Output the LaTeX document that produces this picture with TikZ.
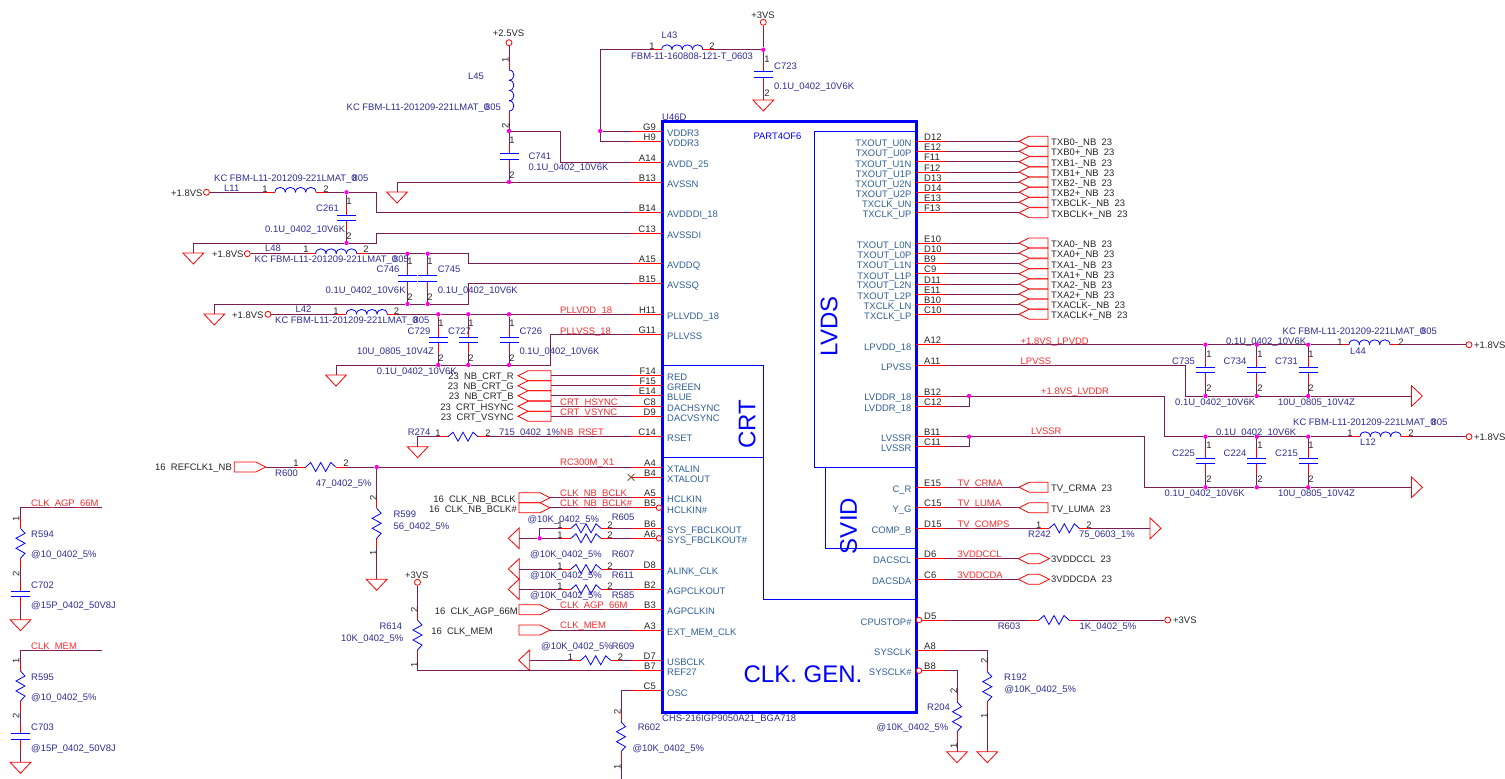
\documentclass[tikz,border=0pt]{standalone}
\usepackage{fontspec}
\setmainfont{Liberation Sans}
\usetikzlibrary{shapes.misc}

\definecolor{wirecol}{HTML}{7A1F55}
\definecolor{refblue}{HTML}{2E2E96}
\definecolor{pinblue}{HTML}{2F6096}
\definecolor{netred}{HTML}{FF2B2B}
\definecolor{dotmag}{HTML}{FF00E0}

\newcommand{\kcfbm}{KC FBM-L11-201209-221LMAT\_0\kern-4pt 805}
\newcommand{\ten}{0.1U\_0402\_10V6K}
\newcommand{\tenu}{10U\_0805\_10V4Z}
\newcommand{\atten}{@10K\_0402\_5\%}

\tikzset{
  wire/.style={draw=wirecol,line width=1pt},
  stub/.style={draw=red,line width=1pt},
  partline/.style={draw=blue,line width=.8pt},
  symb/.style={draw=red,line width=.8pt},
  txt/.style={inner sep=0pt,text height=7pt,text depth=0pt,anchor=west,font=\fontsize{9.45}{10}\selectfont},
  pinnum/.style={txt,anchor=center,text=black!85},
  rotnum/.style={pinnum,rotate=90},
  pinname/.style={txt,text=pinblue},
  refdes/.style={txt,text=refblue},
  netname/.style={txt,text=netred},
  porttext/.style={txt,text=black!85},
  bigname/.style={inner sep=0pt,text=blue,font=\fontsize{24}{26}\selectfont},
  jdot/.style={circle,fill=dotmag,inner sep=0pt,minimum size=4.4pt},
  pwr/.style={circle,draw=red,fill=white,line width=.8pt,inner sep=0pt,minimum size=6pt},
  nocon/.style={cross out,draw=brown!70!black,line width=.8pt,inner sep=0pt,minimum size=6pt},
  res/.pic={
    \coordinate (-a) at (-10,0);
    \coordinate (-b) at (40,0);
    \draw[stub] (-a) -- (0,0) (30,0) -- (-b);
    \draw[partline] (0,0) -- (5,-4.5) -- (10,4.5) -- (15,-4.5) -- (20,4.5) -- (25,-4.5) -- (30,0);
  },
  ind/.pic={
    \coordinate (-a) at (-10,0);
    \coordinate (-b) at (51,0);
    \draw[stub] (-a) -- (0,0) (41,0) -- (-b);
    \foreach \s/\e in {0/10.25,10.25/20.5,20.5/30.75,30.75/41}
      \draw[partline] (\s,0) .. controls (\s,-6.5) and (\e,-6.5) .. (\e,0);
  },
  cap/.pic={
    \coordinate (-a) at (-12.7,0);
    \coordinate (-b) at (12.7,0);
    \draw[stub] (-a) -- (-2.7,0) (2.7,0) -- (-b);
    \draw[partline] (-2.7,-9.5) -- (-2.7,9.5) (2.7,-9.5) -- (2.7,9.5);
  },
  gnd/.pic={
    \coordinate (-top) at (0,0);
    \draw[symb] (-10.4,0) -- (10.4,0) -- (0,11) -- cycle;
  },
  portl/.pic={
    \coordinate (-tip) at (0,0);
    \coordinate (-tail) at (#1,0);
    \draw[symb] (0,0) -- (10,-5) -- (#1,-5) -- (#1,5) -- (10,5) -- cycle;
  },
  portr/.pic={
    \coordinate (-tail) at (0,0);
    \coordinate (-tip) at (#1,0);
    \draw[symb] (0,-5) -- ({#1-10},-5) -- (#1,0) -- ({#1-10},5) -- (0,5) -- cycle;
  },
  hexport/.pic={
    \coordinate (-a) at (0,0);
    \draw[symb] (0,0) -- (10,-5) -- (21,-5) -- (31,0) -- (21,5) -- (10,5) -- cycle;
  }
}

\begin{document}
\begin{tikzpicture}[x=1pt,y=-1pt]
\useasboundingbox (0,0) rectangle (1505,779);

% chip outline
\draw[blue,line width=3pt] (662,121) rectangle (916,712);
\draw[blue,line width=.8pt] (916,131.7) -- (814.5,131.7) -- (814.5,467) -- (916,467);
\draw[blue,line width=.8pt] (825,467) -- (825,548.7) -- (916,548.7);
\draw[blue,line width=.8pt] (662,365.3) -- (763.7,365.3) -- (763.7,599) -- (916,599);
\draw[blue,line width=.8pt] (662,457) -- (763.7,457);
\node[bigname,rotate=90] (tLVDS) at (829,326.5) {LVDS};
\node[bigname,rotate=90] (tCRT) at (747,424) {CRT};
\node[bigname,rotate=90] (tSVID) at (848.5,526) {SVID};
\node[bigname] (tCLK) at (803,674) {CLK. GEN.};
\node[refdes] (tU46D) at (662,117) {U46D};
\node[txt,text=blue] (tPART) at (753.3,136) {PART4OF6};
\node[refdes] (tCHS) at (662,718) {CHS-216IGP9050A21\_BGA718};

% left pins
\foreach \pn/\ptxt/\py/\ny in {G9/VDDR3/131/132.7,H9/VDDR3/141.3/143,A14/AVDD\_25/162/164,B13/AVSSN/182/184,B14/AVDDDI\_18/212.7/214,C13/AVSSDI/233/234.5,A15/AVDDQ/263.7/265,B15/AVSSQ/283.7/285,H11/PLLVDD\_18/314.3/316,G11/PLLVSS/334.7/336,F14/RED/375.7/376.5,F15/GREEN/385.7/386.7,E14/BLUE/395.7/396.7,C8/DACHSYNC/406.3/407.7,D9/DACVSYNC/416.3/417.7,C14/RSET/436.7/437.7,A4/XTALIN/467/468.7,B4/XTALOUT/477.3/478.7,A5/HCLKIN/497.7/498.7,B5/HCLKIN\#/507.7/509.7,B6/SYS\_FBCLKOUT/528.3/529.7,A6/SYS\_FBCLKOUT\#/538.3/539.7,D8/ALINK\_CLK/569/570.7,B2/AGPCLKOUT/589.3/590.7,B3/AGPCLKIN/609.7/610.7,A3/EXT\_MEM\_CLK/630/631.7,D7/USBCLK/660.3/661.7,B7/REF27/670.7/671.7,C5/OSC/690.7/692.7}{
  \coordinate (pin\pn) at (662,\py);
  \draw[stub] (pin\pn) -- ++(-30,0) coordinate (stub\pn);
  \node[txt,anchor=east,text=black!85] (num\pn) at (656,\py-4.5) {\pn};
  \node[pinname] (name\pn) at (667,\ny) {\ptxt};
}

% right pins
\foreach \pn/\ptxt/\py/\ny in {D12/TXOUT\_U0N/141.3/142.7,E12/TXOUT\_U0P/151.3/152.7,F11/TXOUT\_U1N/161.7/163.7,F12/TXOUT\_U1P/172/173.7,D13/TXOUT\_U2N/182/183.7,D14/TXOUT\_U2P/192.3/193.7,E13/TXCLK\_UN/202.3/203.7,F13/TXCLK\_UP/212.7/213.7,E10/TXOUT\_L0N/243/244.7,D10/TXOUT\_L0P/253/254.7,B9/TXOUT\_L1N/263.7/264.7,C9/TXOUT\_L1P/273.7/275.7,D11/TXOUT\_L2N/284/284.7,E11/TXOUT\_L2P/294/295.7,B10/TXCLK\_LN/304/305.7,C10/TXCLK\_LP/314.3/315.7,A12/LPVDD\_18/344.7/346.7,A11/LPVSS/365.3/366.7,B12/LVDDR\_18/396/396.7,C12/LVDDR\_18/406/407.7,B11/LVSSR/436.7/437.7,C11/LVSSR/446.7/447.7,E15/C\_R/487.3/488.7,C15/Y\_G/507.7/509.3,D15/COMP\_B/528.3/530,D6/DACSCL/558.7/560,C6/DACSDA/579.3/580.7,D5/CPUSTOP\#/620/621.7,A8/SYSCLK/650.3/652,B8/SYSCLK\#/670.7/672}{
  \coordinate (pin\pn) at (916,\py);
  \draw[stub] (pin\pn) -- ++(30,0) coordinate (stub\pn);
  \node[txt,text=black!85] (num\pn) at (924,\py-4.5) {\pn};
  \node[pinname,anchor=east] (name\pn) at (911.7,\ny) {\ptxt};
}
\foreach \pn/\bx/\py in {B5/659/507.7,A6/659/538.3,D5/919/620,B8/919/670.7}
  \node[pwr,minimum size=5.6pt] (bub\pn) at (\bx,\py) {};
\node[nocon] (xB4) at (631,477.3) {};

% LVDS outputs
\foreach \pn/\py/\ptxt in {D12/141.3/TXB0-\_NB\ \ 23,E12/151.3/TXB0+\_NB\ \ 23,F11/161.7/TXB1-\_NB\ \ 23,F12/172/TXB1+\_NB\ \ 23,D13/182/TXB2-\_NB\ \ 23,D14/192.3/TXB2+\_NB\ \ 23,E13/202.3/TXBCLK-\_NB\ \ 23,F13/212.7/TXBCLK+\_NB\ \ 23,E10/243/TXA0-\_NB\ \ 23,D10/253/TXA0+\_NB\ \ 23,B9/263.7/TXA1-\_NB\ \ 23,C9/273.7/TXA1+\_NB\ \ 23,D11/284/TXA2-\_NB\ \ 23,E11/294/TXA2+\_NB\ \ 23,B10/304/TXACLK-\_NB\ \ 23,C10/314.3/TXACLK+\_NB\ \ 23,E15/487.3/TV\_CRMA\ \ 23,C15/507.7/TV\_LUMA\ \ 23}{
  \pic (port\pn) at (1019,\py) {portl=29};
  \draw[wire] (stub\pn) -- (port\pn-tip);
  \node[porttext] (tx\pn) at (1051,\py+1) {\ptxt};
}
\foreach \pn/\py/\ptxt in {D6/558.7/3VDDCCL\ \ 23,C6/579.3/3VDDCDA\ \ 23}{
  \pic (port\pn) at (1018.3,\py) {hexport};
  \draw[wire] (stub\pn) -- (port\pn-a);
  \node[porttext] (tx\pn) at (1051,\py) {\ptxt};
}

% CRT and clock ports on the left
\foreach \pn/\py/\ptxt in {F14/375.7/23\ \ NB\_CRT\_R,F15/385.7/23\ \ NB\_CRT\_G,E14/395.7/23\ \ NB\_CRT\_B,C8/406.3/23\ \ CRT\_HSYNC,D9/416.3/23\ \ CRT\_VSYNC}{
  \pic (port\pn) at (518,\py) {portl=33};
  \draw[wire] (port\pn-tail) -- (stub\pn);
  \node[porttext,anchor=east] (tx\pn) at (514,\py+.5) {\ptxt};
}
\foreach \pn/\py/\ex/\ptxt in {A5/497.7/516/16\ \ CLK\_NB\_BCLK,B5/507.7/517/16\ \ CLK\_NB\_BCLK\#,B3/609.7/518/16\ \ CLK\_AGP\_66M,A3/630/493/16\ \ CLK\_MEM}{
  \pic (port\pn) at (519,\py) {portr=31};
  \draw[wire] (port\pn-tip) -- (stub\pn);
  \node[porttext,anchor=east] (tx\pn) at (\ex,\py+1) {\ptxt};
}

% +3VS, L43, C723
\node[porttext,anchor=center] (t3VSa) at (763,15) {+3VS};
\node[pwr] (vL43) at (763.3,22.3) {};
\node[jdot] (jL43) at (763.3,49.7) {};
\node[jdot] (jG9) at (600.3,131) {};
\pic (L43) at (661.7,49.7) {ind};
\pic[rotate=-90] (C723) at (763.3,74.3) {cap};
\pic (gC723) at (763.3,100) {gnd};
\draw[wire] (vL43) -- (jL43);
\draw[wire] (L43-b) -- (jL43);
\draw[wire] (L43-a) -| (jG9);
\draw[wire] (jG9) -- (stubG9);
\draw[wire] (jG9) |- (stubH9);
\draw[wire] (jL43) -- (C723-a);
\draw[wire] (C723-b) -- (gC723-top);

% +2.5VS, L45, C741
\node[porttext,anchor=center] (t25VS) at (508.5,33) {+2.5VS};
\node[pwr] (vL45) at (509,42.7) {};
\node[jdot] (jL45) at (509,131) {};
\node[jdot] (jB13) at (509,182) {};
\coordinate (bendA14) at (560.3,162);
\pic[rotate=-90] (L45) at (509,70) {ind};
\pic[rotate=-90] (C741) at (509,156.4) {cap};
\pic (gB13) at (397,192) {gnd};
\draw[wire] (vL45) -- (L45-a);
\draw[wire] (L45-b) -- (jL45);
\draw[wire] (jL45) -| (bendA14) -- (stubA14);
\draw[wire] (jL45) -- (C741-a);
\draw[wire] (C741-b) -- (jB13);
\draw[wire] (stubB13) -- (jB13);
\draw[wire] (jB13) -| (gB13-top);

% L11, C261
\node[pwr] (vL11) at (206.5,192.3) {};
\node[jdot] (jL11) at (346.5,192.3) {};
\node[jdot] (jC13) at (346.5,243) {};
\coordinate (bendB14) at (376.7,212.7);
\coordinate (bendC13) at (376.7,233);
\pic (L11) at (275,192.3) {ind};
\pic[rotate=-90] (C261) at (346.5,217.6) {cap};
\pic (gC13) at (193.3,253) {gnd};
\draw[wire] (vL11) -- (L11-a);
\draw[wire] (L11-b) -- (jL11);
\draw[wire] (jL11) -| (bendB14) -- (stubB14);
\draw[wire] (jL11) -- (C261-a);
\draw[wire] (C261-b) -- (jC13);
\draw[wire] (gC13-top) |- (jC13);
\draw[wire] (jC13) -| (bendC13) -- (stubC13);

% L48, C746, C745
\node[pwr] (vL48) at (247.3,253.7) {};
\node[jdot] (jC746) at (407.5,253.7) {};
\node[jdot] (jC745) at (427.7,253.7) {};
\node[jdot] (kC746) at (407.5,304) {};
\node[jdot] (kC745) at (427.7,304) {};
\coordinate (bendA15) at (468.3,263.7);
\coordinate (bendB15) at (468.3,283.7);
\pic (L48) at (315.7,253.7) {ind};
\pic[rotate=-90] (C746) at (407.5,278.3) {cap};
\pic[rotate=-90] (C745) at (427.7,278.3) {cap};
\pic (gB15) at (214.3,314) {gnd};
\draw[wire] (vL48) -- (L48-a);
\draw[wire] (L48-b) -- (jC746) -- (jC745);
\draw[wire] (jC745) -| (bendA15) -- (stubA15);
\foreach \cn in {C746,C745}{
  \draw[wire] (j\cn) -- (\cn-a);
  \draw[wire] (\cn-b) -- (k\cn);
}
\draw[wire] (gB15-top) |- (kC746) -- (kC745);
\draw[wire] (kC745) -| (bendB15) -- (stubB15);

% L42, C729, C727, C726
\node[pwr] (vL42) at (268,314.3) {};
\pic (L42) at (346.3,314.3) {ind};
\foreach \cn/\cx in {C729/438.3,C727/468.3,C726/509}{
  \node[jdot] (j\cn) at (\cx,314.3) {};
  \node[jdot] (k\cn) at (\cx,365) {};
  \pic[rotate=-90] (\cn) at (\cx,339.6) {cap};
  \draw[wire] (j\cn) -- (\cn-a);
  \draw[wire] (\cn-b) -- (k\cn);
}
\coordinate (bendG11) at (550,334.7);
\pic (gG11) at (336,375) {gnd};
\draw[wire] (vL42) -- (L42-a);
\draw[wire] (L42-b) -- (jC729) -- (jC727) -- (jC726) -- (stubH11);
\draw[wire] (gG11-top) |- (kC729) -- (kC727) -- (kC726);
\draw[wire] (kC726) -| (bendG11) -- (stubG11);

% R274, R600, R599
\pic (R274) at (448,436.7) {res};
\pic (gC14) at (417.7,446.7) {gnd};
\draw[wire] (R274-b) -- (stubC14);
\draw[wire] (R274-a) -| (gC14-top);
\pic (pREF) at (234.3,467) {portr=31.4};
\pic (R600) at (305.7,467) {res};
\node[jdot] (jA4) at (376.7,467) {};
\pic[rotate=-90] (R599) at (376.7,508.3) {res};
\pic (gR599) at (376.7,579.3) {gnd};
\draw[wire] (pREF-tip) -- (R600-a);
\draw[wire] (R600-b) -- (jA4);
\draw[wire] (jA4) -- (stubA4);
\draw[wire] (jA4) -- (R599-a);
\draw[wire] (R599-b) -- (gR599-top);
\draw[wire] (xB4) -- (stubB4);

% feedback clock resistors
\foreach \rn/\py/\pn in {R605/528.3/B6,R607/538.3/A6,R611/569/D8,R585/589.3/B2}{
  \pic (\rn) at (571,\py) {res};
  \draw[wire] (\rn-b) -- (stub\pn);
}
\node[jdot] (jA6) at (539.7,538.3) {};
\pic[rotate=-90] (tA6) at (519.3,538.3) {gnd};
\pic[rotate=-90] (tD8) at (519.3,569) {gnd};
\pic[rotate=-90] (tB2) at (519.3,589.3) {gnd};
\draw[wire] (tA6-top) -- (jA6) -- (R607-a);
\draw[wire] (jA6) |- (R605-a);
\draw[wire] (tD8-top) -- (R611-a);
\draw[wire] (tB2-top) -- (R585-a);

% +3VS, R614, R609
\node[porttext,anchor=center] (t3VSb) at (416.7,575) {+3VS};
\node[pwr] (vR614) at (417.5,582.3) {};
\pic[rotate=-90] (R614) at (417.5,620) {res};
\pic (R609) at (580.7,660.3) {res};
\pic[rotate=-90] (tD7) at (529.7,660.3) {gnd};
\draw[wire] (vR614) -- (R614-a);
\draw[wire] (R614-b) |- (stubB7);
\draw[wire] (tD7-top) -- (R609-a);
\draw[wire] (R609-b) -- (stubD7);

% R602
\pic[rotate=-90] (R602) at (621,721.7) {res};
\coordinate (endR602) at (621,779);
\draw[wire] (stubC5) -| (R602-a);
\draw[wire] (R602-b) -- (endR602);

% damping branches far left
\coordinate (endAGP) at (102,507.7);
\coordinate (endMEM) at (102,650.3);
\pic[rotate=-90] (R594) at (20.5,528.3) {res};
\pic[rotate=-90] (C702) at (20.5,594) {cap};
\pic (gC702) at (20.5,619.7) {gnd};
\pic[rotate=-90] (R595) at (20.5,671) {res};
\pic[rotate=-90] (C703) at (20.5,736.3) {cap};
\pic (gC703) at (20.5,762.3) {gnd};
\draw[wire] (endAGP) -| (R594-a);
\draw[wire] (R594-b) -- (C702-a);
\draw[wire] (C702-b) -- (gC702-top);
\draw[wire] (endMEM) -| (R595-a);
\draw[wire] (R595-b) -- (C703-a);
\draw[wire] (C703-b) -- (gC703-top);

% LPVDD branch
\foreach \cn/\cx in {C735/1205.5,C734/1256.8,C731/1308.2}{
  \node[jdot] (j\cn) at (\cx,344.7) {};
  \node[jdot] (k\cn) at (\cx,396) {};
  \pic[rotate=-90] (\cn) at (\cx,370) {cap};
  \draw[wire] (j\cn) -- (\cn-a);
  \draw[wire] (\cn-b) -- (k\cn);
}
\pic (L44) at (1349,344.7) {ind};
\node[pwr] (vL44) at (1469,344.7) {};
\pic[rotate=90] (tA11) at (1411.4,396) {gnd};
\coordinate (bendA11) at (1185.5,396);
\draw[wire] (stubA12) -- (jC735) -- (jC734) -- (jC731) -- (L44-a);
\draw[wire] (L44-b) -- (vL44);
\draw[wire] (stubA11) -| (bendA11) -- (kC735) -- (kC734) -- (kC731) -- (tA11-top);

% LVDDR branch
\node[jdot] (jB12) at (969,396) {};
\node[jdot] (jB11) at (969,436.7) {};
\foreach \cn/\cx in {C225/1205.5,C224/1256.8,C215/1308.2}{
  \node[jdot] (j\cn) at (\cx,436.7) {};
  \node[jdot] (k\cn) at (\cx,487.3) {};
  \pic[rotate=-90] (\cn) at (\cx,461) {cap};
  \draw[wire] (j\cn) -- (\cn-a);
  \draw[wire] (\cn-b) -- (k\cn);
}
\pic (L12) at (1360,436.7) {ind};
\node[pwr] (vL12) at (1469,436.7) {};
\pic[rotate=90] (tB11) at (1411.4,487.3) {gnd};
\coordinate (bendB12) at (1164.5,436.7);
\coordinate (bendB11) at (1144,487.3);
\draw[wire] (stubB12) -- (jB12);
\draw[wire] (jB12) |- (stubC12);
\draw[wire] (jB12) -| (bendB12) -- (jC225) -- (jC224) -- (jC215) -- (L12-a);
\draw[wire] (L12-b) -- (vL12);
\draw[wire] (stubB11) -- (jB11);
\draw[wire] (jB11) |- (stubC11);
\draw[wire] (jB11) -| (bendB11) -- (kC225) -- (kC224) -- (kC215) -- (tB11-top);

% R242, R603, R192, R204
\pic (R242) at (1049.3,528.3) {res};
\pic[rotate=90] (tD15) at (1150,528.3) {gnd};
\draw[wire] (stubD15) -- (R242-a);
\draw[wire] (R242-b) -- (tD15-top);
\pic (R603) at (1039,620) {res};
\node[pwr] (vR603) at (1167.7,620) {};
\draw[wire] (stubD5) -- (R603-a);
\draw[wire] (R603-b) -- (vR603);
\pic[rotate=-90] (R192) at (987.3,671.7) {res};
\pic (gA8) at (987.3,751.7) {gnd};
\draw[wire] (stubA8) -| (R192-a);
\draw[wire] (R192-b) -- (gA8-top);
\pic[rotate=-90] (R204) at (957,701.7) {res};
\pic (gB8) at (957,751.7) {gnd};
\draw[wire] (stubB8) -| (R204-a);
\draw[wire] (R204-b) -- (gB8-top);

% part names and values
\foreach \n/\x/\y/\t in {
  rL43/661.5/35/L43,vaL43/631/56/FBM-11-160808-121-T\_0603,
  rC723/774/66/C723,vaC723/774/86/\ten,
  rL45/468/76/L45,vaL45/346.5/107/\kcfbm,
  rC741/528.3/156/C741,vaC741/528.3/167/\ten,
  rL11/224/188/L11,vaL11/214/177.5/\kcfbm,
  rC261/316/208/C261,vaC261/265/229/\ten,
  rL48/265/248/L48,vaL48/254.5/258.7/\kcfbm,
  rC746/376.5/268.7/C746,vaC746/325.5/289.7/\ten,
  rC745/437.7/268.7/C745,vaC745/437.7/289.7/\ten,
  rL42/295.5/309/L42,vaL42/275/319.5/\kcfbm,
  rC729/407.5/331/C729,vaC729/357/351/\tenu,
  rC727/448/331/C727,vaC727/376.7/371/\ten,
  rC726/519.3/331/C726,vaC726/519.3/351/\ten,
  rR274/407.7/432/R274,vaR274/499/432/715\_0402\_1\%,
  rR600/275/472.7/R600,vaR600/315.7/483/47\_0402\_5\%,
  rR599/393.3/514/R599,vaR599/393.3/526/56\_0402\_5\%,
  rR605/611.7/517/R605,vaR605/527.3/519/\atten,
  rR607/611.7/553.7/R607,vaR607/530/553.7/\atten,
  rR611/611.7/575/R611,vaR611/530/575/\atten,
  rR585/611.7/595/R585,vaR585/530/595/\atten,
  rR614/379.3/626/R614,vaR614/341/637.7/10K\_0402\_5\%,
  rR609/611.7/646/R609,vaR609/541/646/\atten,
  rR602/637.7/726.7/R602,vaR602/632.3/748/\atten,
  rR594/31/534/R594,vaR594/31/554/@10\_0402\_5\%,
  rC702/31/585/C702,vaC702/31/605/@15P\_0402\_50V8J,
  rR595/31/677/R595,vaR595/31/697/@10\_0402\_5\%,
  rC703/31/727/C703,vaC703/31/748/@15P\_0402\_50V8J,
  rL44/1350/351/L44,vaL44/1282.5/331/\kcfbm,
  vaC735/1175/402/\ten,vaC734/1226/341/\ten,vaC731/1278/402/\tenu,
  rL12/1360/442/L12,vaL12/1293/421.7/\kcfbm,
  vaC225/1164.5/493/\ten,vaC224/1216/431.7/\ten,vaC215/1278/493/\tenu,
  rC735/1172/361/C735,rC734/1223.5/361/C734,rC731/1275/361/C731,
  rC225/1172/453/C225,rC224/1223.5/453/C224,rC215/1275/453/C215,
  rR242/1028/534/R242,vaR242/1079/534/75\_0603\_1\%,
  rR603/997.7/625.7/R603,vaR603/1079.3/626/1K\_0402\_5\%,
  rR192/1004/677/R192,vaR192/1004.3/689/\atten,
  rR204/927/707/R204,vaR204/876.5/727/\atten}
  \node[refdes] (\n) at (\x,\y) {\t};

% net names
\foreach \n/\x/\y/\t in {
  nPLLVDD/560/310/PLLVDD\_18,nPLLVSS/560/331/PLLVSS\_18,
  nHSYNC/560/401.5/CRT\_HSYNC,nVSYNC/560/411.5/CRT\_VSYNC,
  nRSET/560/432/NB\_RSET,nX1/560/462/RC300M\_X1,
  nBCLK/560/492.7/CLK\_NB\_BCLK,nBCLKb/560/502.7/CLK\_NB\_BCLK\#,
  nAGP/560/605/CLK\_AGP\_66M,nMEM/560/625/CLK\_MEM,
  nAGPb/31/502.7/CLK\_AGP\_66M,nMEMb/31/645.5/CLK\_MEM,
  nLPVDD/1020.5/341/+1.8VS\_LPVDD,nLPVSS/1020.5/361/LPVSS,
  nLVDDR/1041/391/+1.8VS\_LVDDR,nLVSSR/1031/431/LVSSR,
  nCRMA/957.3/482.7/TV\_CRMA,nLUMA/957.3/503/TV\_LUMA,nCOMPS/957.3/523.5/TV\_COMPS,
  nCCL/957.3/554/3VDDCCL,nCDA/957.3/575/3VDDCDA}
  \node[netname] (\n) at (\x,\y) {\t};

% rails and port text
\foreach \n/\x/\y/\t in {
  t18a/171/193/+1.8VS,t18b/212/254/+1.8VS,t18c/232/314.7/+1.8VS,
  t18d/1474/345/+1.8VS,t18e/1474/437/+1.8VS,t3VSc/1173/620/+3VS,
  tREF/155/467/16\ \ REFCLK1\_NB}
  \node[porttext] (\n) at (\x,\y) {\t};

% pin numbers of the parts
\foreach \n/\x/\y/\t in {
  a1/652/46/1,a2/712/46/2,a3/767/59/1,a4/767/93/2,
  b3/512/140/1,b4/512/175/2,
  c1/265/189/1,c2/326/189/2,c3/349/201/1,c4/349/236/2,
  d1/306/249/1,d2/366/249/2,d3/410/261/1,d4/430/261/1,d5/410/296.7/2,d6/430/296.7/2,
  e1/336/311/1,e2/396.5/311/2,e3/441/323/1,e4/471/323/1,e5/512/323/1,e6/441/358/2,e7/471/358/2,e8/512/358/2,
  f1/438/433/1,f2/488/433/2,f3/296/463/1,f4/346/463/2,
  g1/560/525/1,g2/610/525/2,g3/560/535/1,g4/610/535/2,g5/560/566/1,g6/610/566/2,g7/560/586/1,g8/610/586/2,
  h1/570.5/657/1,h2/620.5/657/2,
  i1/1340/342/1,i2/1401/342/2,i3/1209/354/1,i4/1260/354/1,i5/1311/354/1,i6/1209/388/2,i7/1260/388/2,i8/1311/388/2,
  j1/1350/433/1,j2/1411/433/2,j3/1209/445/1,j4/1260/445/1,j5/1311/445/1,j6/1209/479/2,j7/1260/479/2,j8/1311/479/2,
  k1/1038.7/525/1,k2/1089/525/2}
  \node[pinnum] (pn\n) at (\x,\y) {\t};
\foreach \n/\x/\y/\t in {
  b1/505/60/1,b2/505/126/2,m1/373/498/2,m2/373/553/1,n1/414/610/2,n2/414/665/1,
  o1/617/712/2,o2/617/767/1,q1/16/519/1,q2/16/574/2,q3/16/661/1,q4/16/716/2,
  s1/984/661/2,s2/984/716/1,t1/953.5/691/2,t2/953.5/746/1}
  \node[rotnum] (pn\n) at (\x,\y) {\t};
\end{tikzpicture}
\end{document}
